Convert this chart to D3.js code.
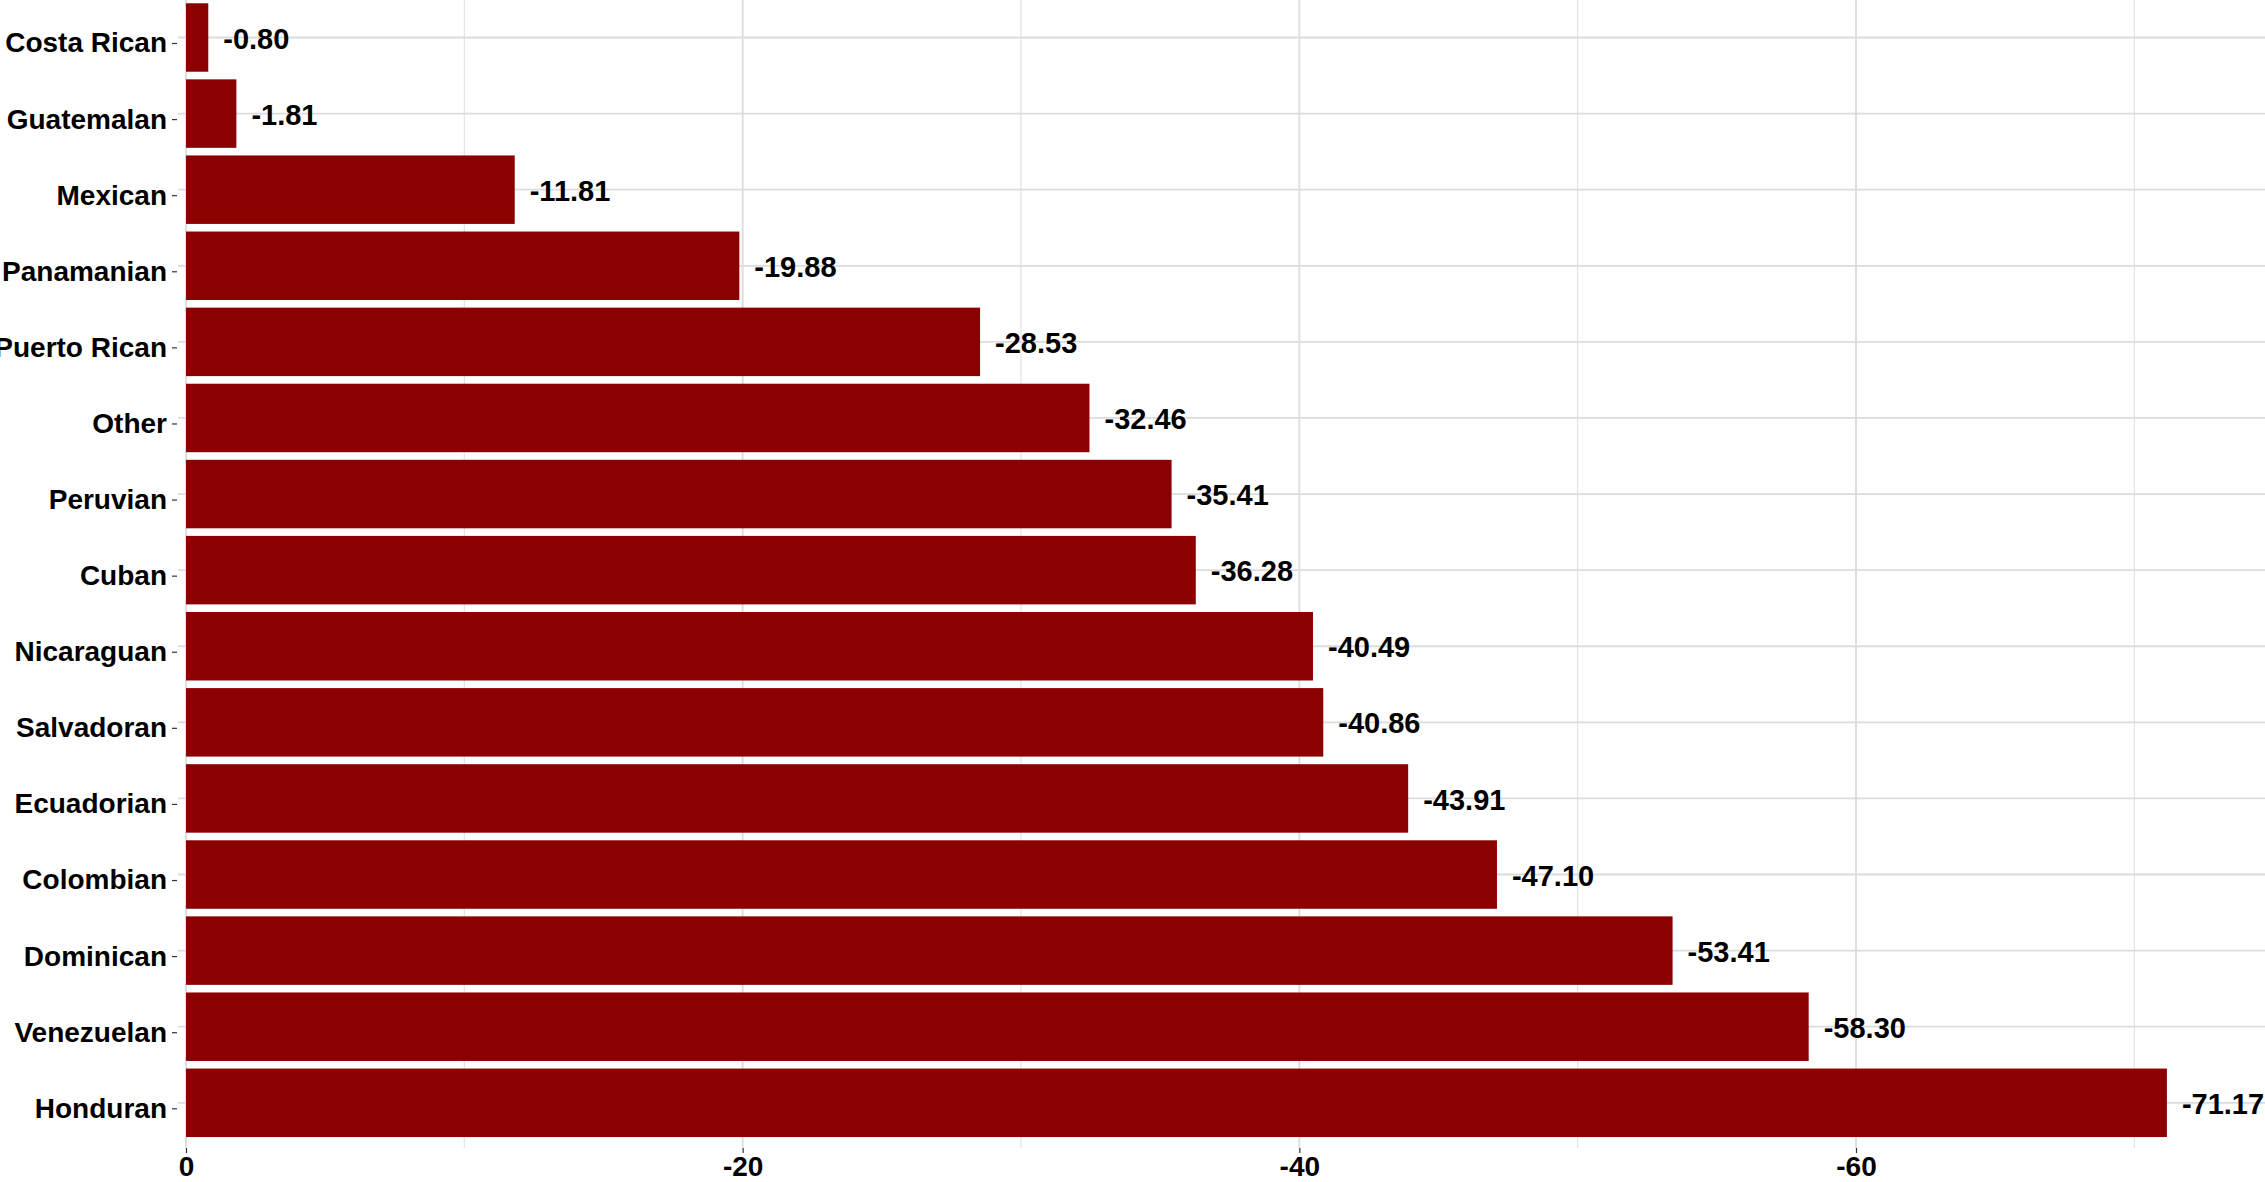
<!DOCTYPE html>
<html>
<head>
<meta charset="utf-8">
<script src="https://cdn.jsdelivr.net/npm/d3@7"></script>
<style>
  html, body { margin: 0; padding: 0; background: #fff; }
  svg { display: block; font-family: "Liberation Sans", Arial, Helvetica, sans-serif; }
</style>
</head>
<body>
<script>
const categories = ["Costa Rican", "Guatemalan", "Mexican", "Panamanian", "Puerto Rican", "Other", "Peruvian", "Cuban", "Nicaraguan", "Salvadoran", "Ecuadorian", "Colombian", "Dominican", "Venezuelan", "Honduran"];
const values = [-0.80, -1.81, -11.81, -19.88, -28.53, -32.46, -35.41, -36.28, -40.49, -40.86, -43.91, -47.10, -53.41, -58.30, -71.17];
const majorTicks = [0, -20, -40, -60];
const minorTicks = [-10, -30, -50, -70];

const W = 2265, H = 1182;
const panel = { left: 178, right: W, top: -10, bottom: 1148 };

const svg = d3.select("body").append("svg").attr("width", W).attr("height", H);

const x = d3.scaleLinear().domain([0, -60]).range([186, 1856]);
const y = d3.scaleBand().domain(categories).range([-0.55, 1140.85]).paddingInner(0.1).paddingOuter(0.05);

const data = categories.map((c, i) => ({ cat: c, val: values[i] }));

// gridlines
const grid = svg.append("g");
grid.selectAll("line.minor").data(minorTicks).join("line")
  .attr("x1", d => x(d)).attr("x2", d => x(d))
  .attr("y1", panel.top).attr("y2", panel.bottom)
  .attr("stroke", "#e3e3e3").attr("stroke-width", 1.2);
grid.selectAll("line.majorx").data(majorTicks).join("line")
  .attr("x1", d => x(d)).attr("x2", d => x(d))
  .attr("y1", panel.top).attr("y2", panel.bottom)
  .attr("stroke", "#dcdcdc").attr("stroke-width", 1.8);
grid.selectAll("line.majory").data(categories).join("line")
  .attr("x1", panel.left).attr("x2", panel.right)
  .attr("y1", d => y(d) + y.bandwidth() / 2).attr("y2", d => y(d) + y.bandwidth() / 2)
  .attr("stroke", "#dcdcdc").attr("stroke-width", 1.8);

// bars
svg.append("g").selectAll("rect").data(data).join("rect")
  .attr("x", d => x(0))
  .attr("y", d => y(d.cat))
  .attr("width", d => x(d.val) - x(0))
  .attr("height", y.bandwidth())
  .attr("fill", "#8B0000");

// value labels
svg.append("g").selectAll("text").data(data).join("text")
  .attr("x", d => x(d.val) + 15)
  .attr("y", d => y(d.cat) + y.bandwidth() / 2 + 1)
  .attr("dy", "0.35em")
  .attr("font-size", 29).attr("font-weight", "bold").attr("fill", "#000")
  .text(d => d.val.toFixed(2));

// y axis
const yAxis = svg.append("g").attr("transform", `translate(${177},6)`)
  .call(d3.axisLeft(y).tickSize(5).tickPadding(5));
yAxis.select(".domain").remove();
yAxis.selectAll(".tick line").attr("stroke", "#333").attr("stroke-width", 1.2);
yAxis.selectAll(".tick text").attr("font-size", 28).attr("font-weight", "bold").attr("fill", "#000")
  .attr("font-family", "'Liberation Sans', Arial, sans-serif");

// x axis
const xAxis = svg.append("g").attr("transform", `translate(0,${panel.bottom})`)
  .call(d3.axisBottom(x).tickValues(majorTicks).tickSize(5).tickPadding(3).tickFormat(d3.format("d")));
xAxis.select(".domain").remove();
xAxis.selectAll(".tick line").attr("stroke", "#333").attr("stroke-width", 1.2);
xAxis.selectAll(".tick text").attr("font-size", 28).attr("font-weight", "bold").attr("fill", "#000")
  .attr("font-family", "'Liberation Sans', Arial, sans-serif")
  .text(d => d === 0 ? "0" : "-" + Math.abs(d));
</script>
</body>
</html>
